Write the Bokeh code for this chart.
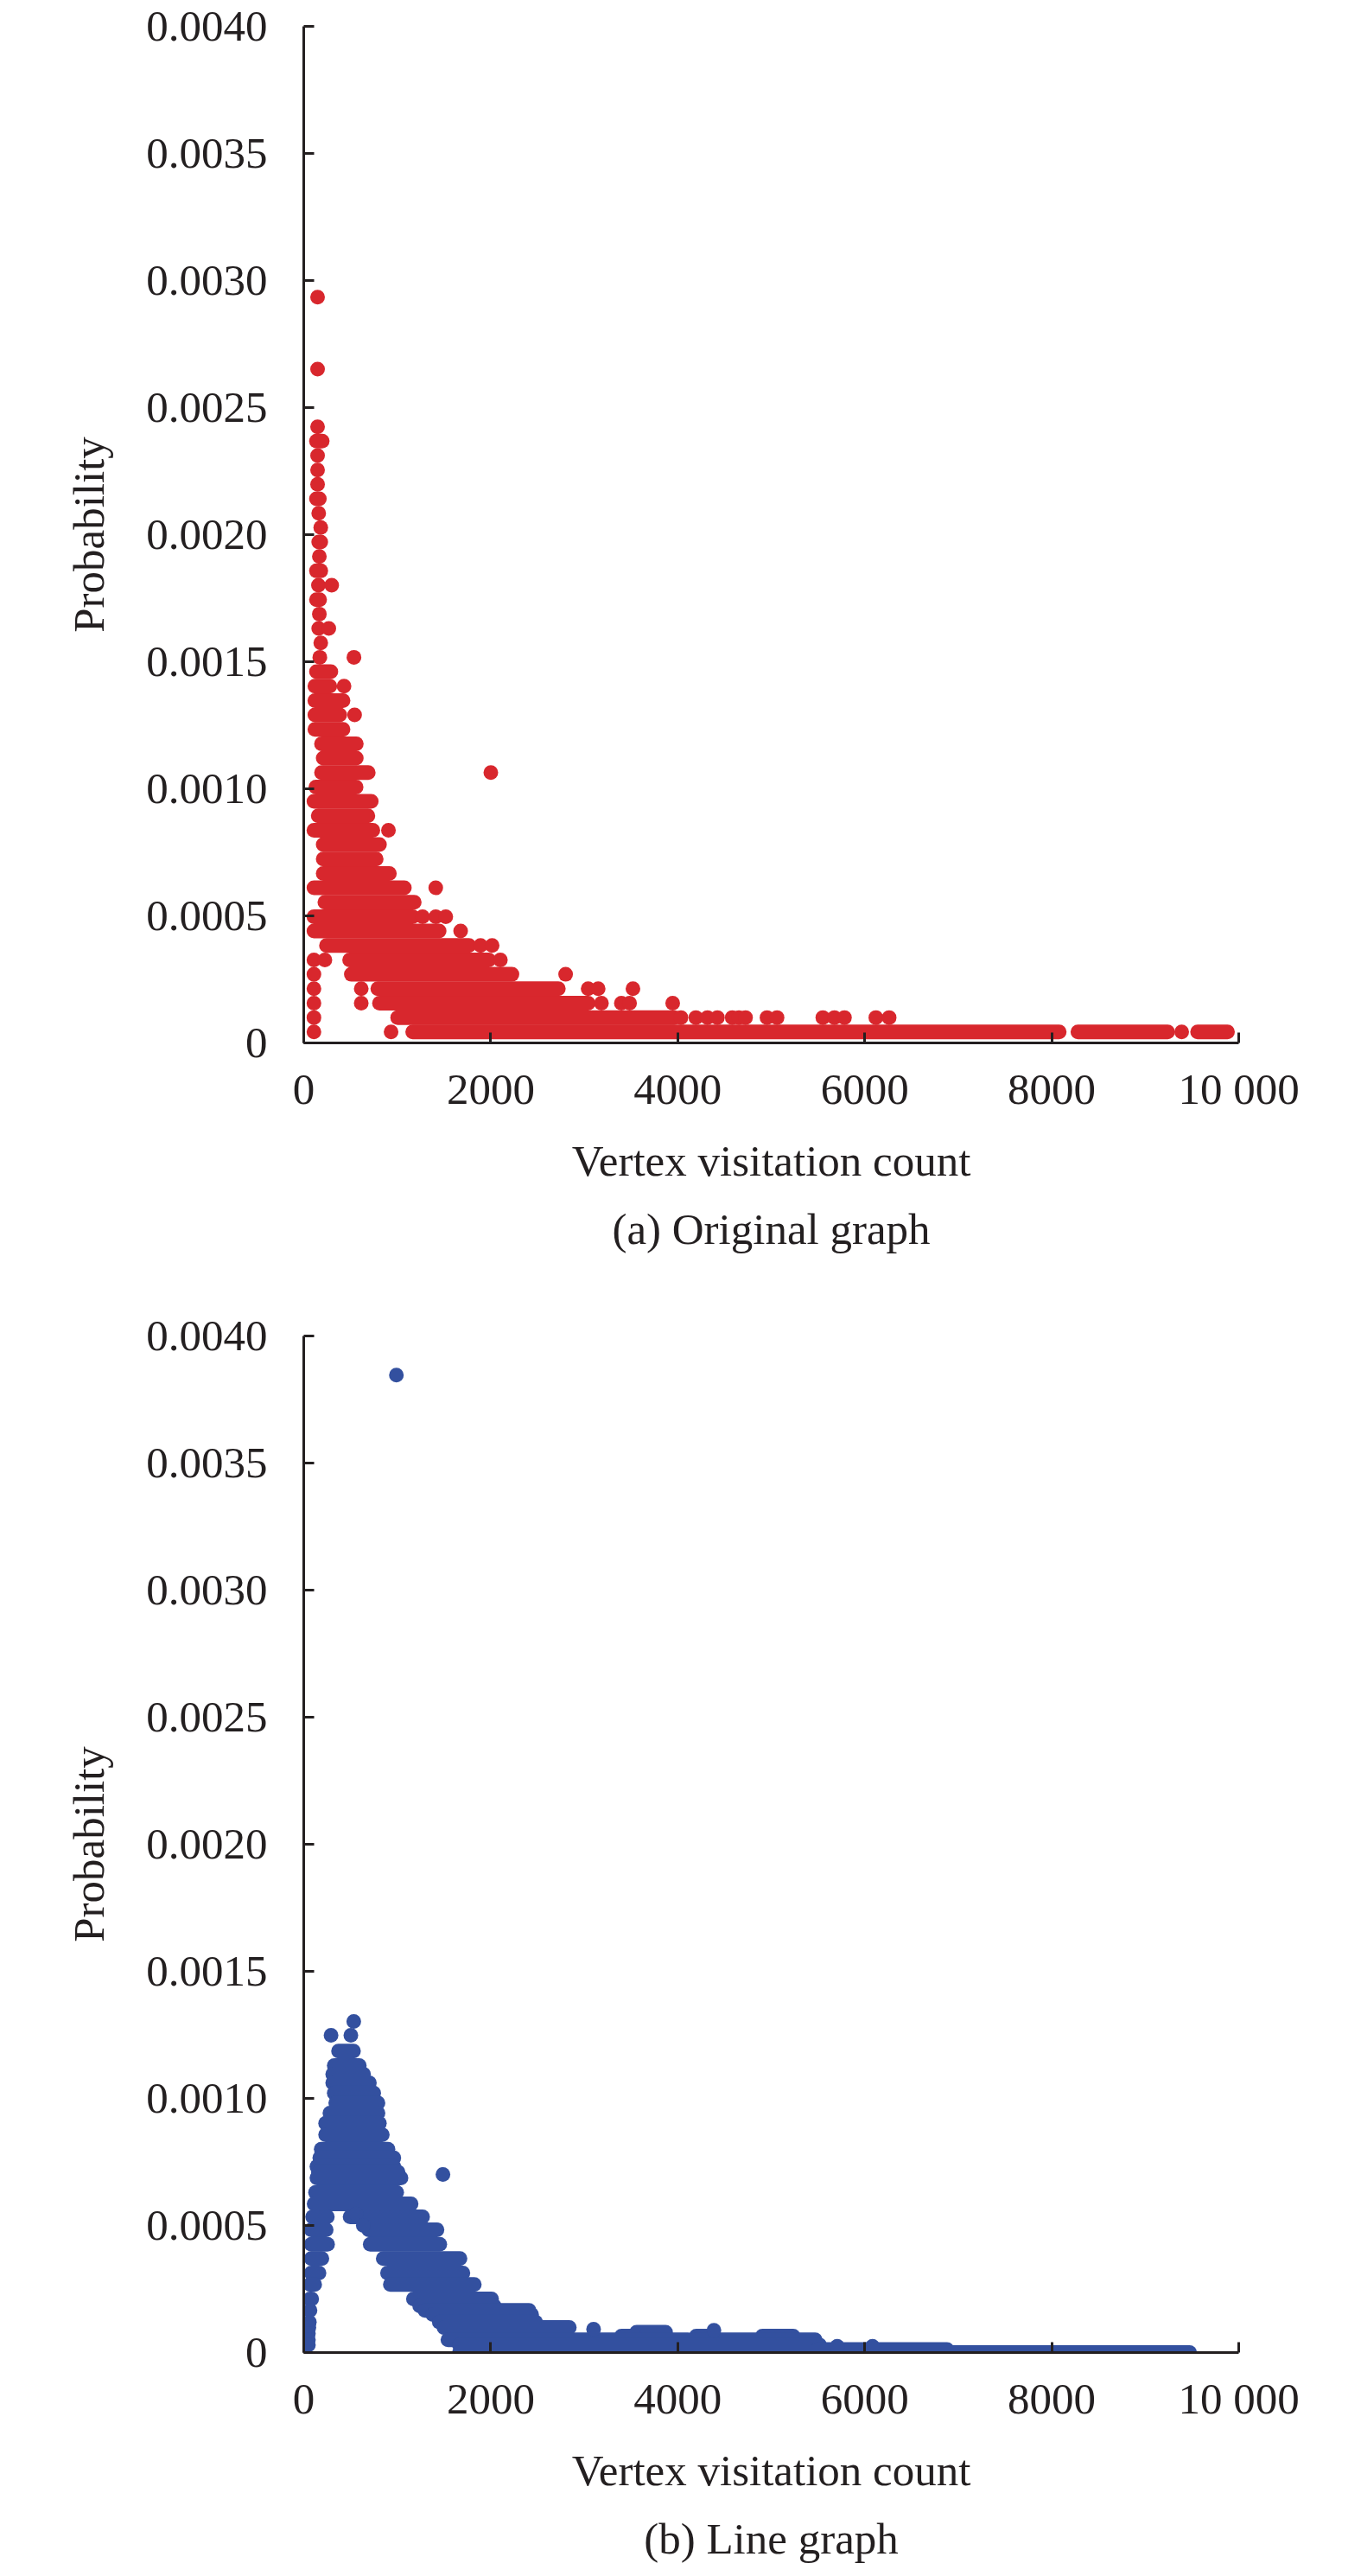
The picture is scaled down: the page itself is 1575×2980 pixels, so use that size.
from bokeh.plotting import figure
from bokeh.layouts import column
from bokeh.models import Range1d, FixedTicker, PrintfTickFormatter, Title
from bokeh.embed import file_html
from bokeh.resources import INLINE

# ---------------- data ----------------
x_ticks = [0, 2000, 4000, 6000, 8000, 10000]
y_ticks = [0, 0.0005, 0.0010, 0.0015, 0.0020, 0.0025, 0.0030, 0.0035, 0.0040]
x_label = "Vertex visitation count"
y_label = "Probability"
caption_a = "(a) Original graph"
caption_b = "(b) Line graph"

# (a) Original graph: runs of overlapping dots at one probability level
a_seg_y = [0.0000432, 0.0000432, 0.0000432, 0.0000999, 0.0001566, 0.0002133,
           0.00027, 0.0003267, 0.0003834, 0.0004401, 0.0004968, 0.0005535,
           0.0006102, 0.0006669, 0.0007236, 0.0007803, 0.000837, 0.0008937,
           0.0009504, 0.0010071, 0.0010638, 0.0011205, 0.0011772, 0.0012339,
           0.0012906, 0.0013473, 0.001404, 0.0014607, 0.0017442, 0.0018576,
           0.001971, 0.0021411, 0.0023679]
a_seg_x0 = [1165, 8280, 9560, 1005, 810, 792,
            509, 491, 243, 109, 109, 226,
            109, 208, 208, 208, 109, 155,
            109, 130, 190, 208, 190, 119,
            119, 119, 119, 136, 136, 136,
            160, 136, 136]
a_seg_x1 = [8080, 9240, 9880, 3963, 3042, 2723,
            2227, 1979, 1767, 1448, 1165, 1182,
            1076, 916, 775, 810, 739, 686,
            722, 560, 690, 562, 562, 420,
            385, 420, 279, 290, 170, 182,
            182, 167, 197]
# (a) single dots
a_pt_x = [109, 934, 9390,
          109, 4034, 4194, 4318, 4424, 4583, 4654, 4725, 4955, 5062, 5552, 5676, 5783, 6119, 6261,
          109, 615, 3184, 3397, 3485, 3946,
          109, 615, 3042, 3149, 3521,
          109, 2801,
          109, 226, 2103,
          1891, 2015,
          1678,
          1271, 1412, 1519,
          1412, 906, 2001, 544, 431,
          172, 537, 182, 160, 268, 167, 157, 299, 167, 182, 160,
          148, 148, 148, 148, 148, 148]
a_pt_y = [0.0000432, 0.0000432, 0.0000432,
          0.0000999, 0.0000999, 0.0000999, 0.0000999, 0.0000999, 0.0000999, 0.0000999, 0.0000999,
          0.0000999, 0.0000999, 0.0000999, 0.0000999, 0.0000999, 0.0000999, 0.0000999,
          0.0001566, 0.0001566, 0.0001566, 0.0001566, 0.0001566, 0.0001566,
          0.0002133, 0.0002133, 0.0002133, 0.0002133, 0.0002133,
          0.00027, 0.00027,
          0.0003267, 0.0003267, 0.0003267,
          0.0003834, 0.0003834,
          0.0004401,
          0.0004968, 0.0004968, 0.0004968,
          0.0006102, 0.000837, 0.0010638, 0.0012906, 0.001404,
          0.0015174, 0.0015174, 0.0015741, 0.0016308, 0.0016308, 0.0016875, 0.0018009, 0.0018009,
          0.0019143, 0.0020277, 0.0020844,
          0.0021978, 0.0022545, 0.0023112, 0.0024246, 0.0026514, 0.0029349]

# (b) Line graph: runs of overlapping dots at one probability level
b_seg_y = [0.001186, 0.001129, 0.001095, 0.001061, 0.001021, 0.000982, 0.000942,
           0.000902, 0.000857, 0.000800, 0.000766, 0.000732, 0.000710, 0.000687,
           0.000630, 0.000585, 0.000534, 0.000534, 0.000483, 0.000483, 0.000426,
           0.000426, 0.000370, 0.000370, 0.000313, 0.000313, 0.000268, 0.000268,
           0.000211, 0.000211, 0.000184, 0.000166, 0.000150, 0.000120, 0.0000986,
           0.00008, 0.0000646, 0.0000646, 0.0000646, 0.00005, 0.00005, 0.0000296,
           0.000012, 0.0]
b_seg_x0 = [372, 326, 310, 310, 326, 342, 280,
            234, 234, 187, 172, 141, 157, 141,
            126, 111, 95, 496, 80, 695, 80,
            711, 80, 850, 80, 896, 67, 926,
            67, 1173, 1240, 1296, 1380, 1450, 1500,
            3560, 3398, 4198, 4905, 1542, 4190, 1665,
            5500, 1665]
b_seg_x1 = [532, 594, 640, 702, 748, 794, 794,
            809, 840, 901, 963, 963, 1009, 1040,
            994, 1148, 252, 1271, 240, 1425, 255,
            1455, 194, 1671, 163, 1702, 117, 1824,
            85, 2009, 2037, 2410, 2437, 2480, 2840,
            3870, 3539, 4340, 5235, 4110, 5470, 5517,
            6880, 9475]
# (b) single dots
b_pt_x = [991, 1489, 535, 292, 504, 560, 637, 67, 60, 55, 50, 50, 50, 3100, 4387, 5706, 6083]
b_pt_y = [0.003846, 0.000701, 0.001303, 0.001248, 0.001248, 0.000545, 0.0005,
          0.000166, 0.000120, 0.0000986, 0.0000748, 0.00005, 0.0000296,
          0.000092, 0.0000874, 0.000025, 0.000025]

RED = "#d8272d"
BLUE = "#33509f"
INK = "#231f20"
FONT = "Liberation Serif"
FS = "51px"


def make_panel(seg_y, seg_x0, seg_x1, pt_x, pt_y, color, caption, bottom):
    p = figure(frame_width=1082, frame_height=1176,
               min_border_left=351, min_border_right=110,
               min_border_top=30, min_border_bottom=bottom,
               x_range=Range1d(0, 10000), y_range=Range1d(0, 0.004),
               output_backend="svg", toolbar_location=None, tools="")
    p.segment(x0=seg_x0, y0=seg_y, x1=seg_x1, y1=seg_y,
              line_width=17, line_cap="round", line_color=color)
    p.scatter(pt_x, pt_y, size=17, fill_color=color, line_color=None)

    p.grid.visible = False
    p.outline_line_color = None
    p.background_fill_color = "white"

    p.xaxis.ticker = FixedTicker(ticks=x_ticks)
    p.xaxis.major_label_overrides = {10000: "10 000"}
    p.yaxis.ticker = FixedTicker(ticks=y_ticks)
    p.yaxis.formatter = PrintfTickFormatter(format="%.4f")
    p.yaxis.major_label_overrides = {0: "0"}
    p.xaxis.axis_label = x_label
    p.yaxis.axis_label = y_label

    for ax in p.axis:
        ax.axis_line_width = 3
        ax.axis_line_color = INK
        ax.major_tick_line_width = 3
        ax.major_tick_line_color = INK
        ax.major_tick_in = 12
        ax.major_tick_out = 0
        ax.minor_tick_line_color = None
        ax.major_label_text_font = FONT
        ax.major_label_text_font_size = FS
        ax.major_label_text_color = INK
        ax.axis_label_text_font = FONT
        ax.axis_label_text_font_size = FS
        ax.axis_label_text_font_style = "normal"
        ax.axis_label_text_color = INK
    p.xaxis.major_label_standoff = 25
    p.xaxis.axis_label_standoff = 24
    p.yaxis.major_label_standoff = 42
    p.yaxis.axis_label_standoff = 35

    t = Title(text=caption, align="center", text_font=FONT, text_font_size=FS,
              text_font_style="normal", text_color=INK, standoff=36)
    p.add_layout(t, "below")
    return p


p1 = make_panel(a_seg_y, a_seg_x0, a_seg_x1, a_pt_x, a_pt_y, RED, caption_a, 309)
p2 = make_panel(b_seg_y, b_seg_x0, b_seg_x1, b_pt_x, b_pt_y, BLUE, caption_b, 252)

page = column(p1, p2, spacing=0)
open("out.html", "w").write(file_html(page, INLINE))
